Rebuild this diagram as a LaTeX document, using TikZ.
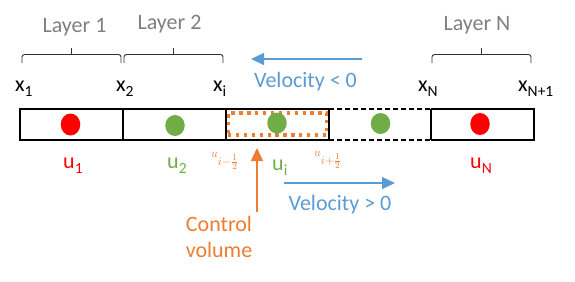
\documentclass[tikz,border=0pt]{standalone}
\usepackage{fontspec}
\setmainfont{Carlito}
\usetikzlibrary{shapes.geometric,arrows.meta}
\definecolor{cred}{HTML}{FF0000}
\definecolor{cgreen}{HTML}{70AD47}
\definecolor{corange}{HTML}{ED7D31}
\definecolor{cblue}{HTML}{5B9BD5}
\definecolor{cgray}{HTML}{7F7F7F}
\newcommand\lsub[1]{\raisebox{-5pt}{\fontsize{15.5}{15.5}\selectfont #1}}
\newcommand\halfsub[1]{\raisebox{-8pt}{\fontsize{12.5}{12.5}\selectfont$#1$}}
\begin{document}
\begin{tikzpicture}[x=1pt,y=-1pt,
 txt/.style={inner sep=0pt, font=\fontsize{22}{26}\selectfont},
 lbl/.style={txt, anchor=base west},
 layer/.style={txt, anchor=base, text=cgray},
 bracestyle/.style={draw=black!80, line width=0.9pt, rounded corners=2.5pt},
 bar/.style={line width=2.6pt, draw=black},
 dot/.style={ellipse, inner sep=0pt, minimum width=19.5pt, minimum height=22pt, fill=#1},
 cv/.style={draw=corange, line width=3.2pt, dash pattern=on 3.3pt off 4.6pt},
 arr/.style={-{Triangle[length=13pt,width=12pt]}, line width=1.2pt},
 half/.style={inner sep=0pt, anchor=base west, text=corange, font=\fontsize{13}{13}\selectfont},
]
\useasboundingbox (0,0) rectangle (575,281);
% bar
\foreach \n/\x in {0/20,1/123,2/226,3/329,4/431,5/534} {
  \coordinate (t\n) at (\x,109); \coordinate (b\n) at (\x,140);}
\node[cv, rectangle, minimum width=99pt, minimum height=22pt, inner sep=0pt] (cvbox) at (277.5,124) {};
\draw[bar] (t3) -- (t0) -- (b0) -- (b3);
\draw[bar] (t4) -- (t5) -- (b5) -- (b4);
\draw[bar] (t1) -- (b1) (t2) -- (b2) (t3) -- (b3) (t4) -- (b4);
\draw[bar, dash pattern=on 5pt off 3pt] (t3) -- (t4) (b3) -- (b4);
% dots
\node[dot=cred] (d1) at (70.5,124.5) {};
\node[dot=cgreen, minimum height=21pt] (d2) at (175,125.5) {};
\node[dot=cgreen, minimum height=21pt] (d3) at (277,123) {};
\node[dot=cgreen, minimum height=21pt] (d4) at (380.5,123.5) {};
\node[dot=cred] (dN) at (480,124) {};
% braces
\foreach \n/\a/\m/\b in {1/22/71/121, 2/124/173/223, N/432/481/531} {
  \coordinate (B\n a) at (\a,63); \coordinate (B\n b) at (\b,63);
  \coordinate (B\n m) at (\m,54.5); \coordinate (B\n t) at (\m,48);
  \draw[bracestyle] (B\n a) |- (B\n m) -| (B\n b);
  \draw[bracestyle] (B\n m) -- (B\n t);
}
\node[layer] (lay1) at (74.5,32) {Layer 1};
\node[layer] (lay2) at (169.5,29) {Layer 2};
\node[layer] (layN) at (477,30) {Layer N};
% x labels
\node[lbl] (x1) at (15,91) {x\lsub{1}};
\node[lbl] (x2) at (116,91) {x\lsub{2}};
\node[lbl] (xi) at (213,91) {x\lsub{i}};
\node[lbl] (xN) at (418,91) {x\lsub{N}};
\node[lbl] (xN1) at (518,91) {x\lsub{N+1}};
% u labels
\node[lbl, text=cred] (u1) at (63,168) {u\lsub{1}};
\node[lbl, text=cgreen] (u2) at (167,168) {u\lsub{2}};
\node[lbl, text=cgreen] (ui) at (272,170) {u\lsub{i}};
\node[lbl, text=cred] (uN) at (470,168) {u\lsub{N}};
\node[half] (uh1) at (211,157) {$u$\halfsub{i{-}\frac{1}{2}}};
\node[half] (uh2) at (314,156) {$u$\halfsub{i{+}\frac{1}{2}}};
% velocity arrows
\coordinate (vl0) at (362,59); \coordinate (vl1) at (251,59);
\draw[arr, cblue] (vl0) -- (vl1);
\node[txt, anchor=base, text=cblue] (vneg) at (305.5,87) {Velocity < 0};
\coordinate (vr0) at (284,183); \coordinate (vr1) at (395,183);
\draw[arr, cblue] (vr0) -- (vr1);
\node[txt, anchor=base, text=cblue] (vpos) at (340,210) {Velocity > 0};
% control volume
\coordinate (ca0) at (257,212); \coordinate (ca1) at (257,148);
\draw[arr, corange, line width=1.4pt] (ca0) -- (ca1);
\node[txt, anchor=north, text=corange, align=center] (cvt) at (219,216) {Control\\volume};
\end{tikzpicture}
\end{document}
